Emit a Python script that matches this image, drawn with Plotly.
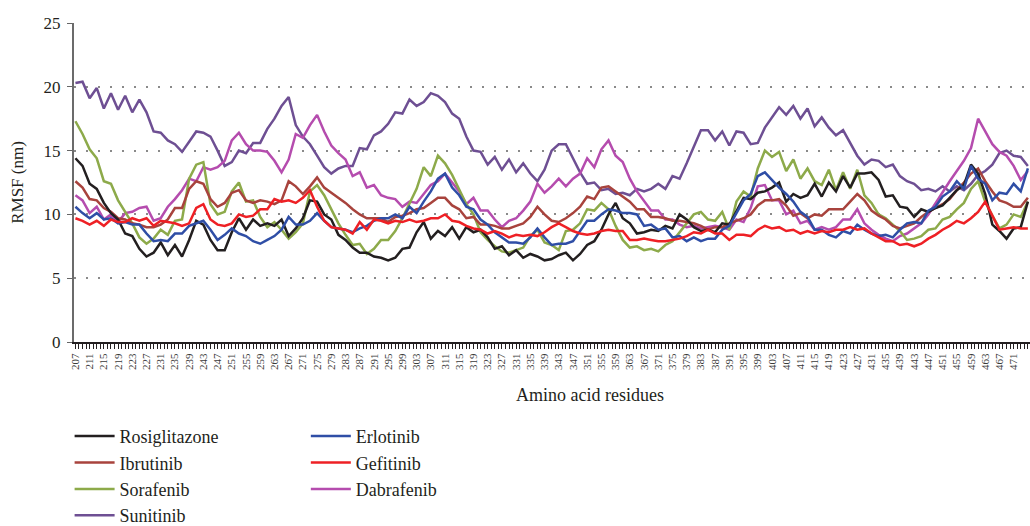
import plotly.graph_objects as go

residues = list(range(207, 476, 2))
tick_labels = [str(r) for r in range(207, 476, 4)]

rosiglitazone = [
    14.4, 13.8, 12.4, 12.0, 10.9, 10.1, 9.6, 8.5, 8.3, 7.3, 6.7, 7.0, 7.8, 6.8, 7.6, 6.7, 8.0, 9.5, 9.2, 8.0,
    7.2, 7.2, 8.6, 9.7, 8.8, 9.6, 9.1, 9.3, 9.1, 9.6, 8.3, 8.9, 9.7, 11.1, 11.0, 10.0, 9.6, 8.4, 8.0, 7.4,
    7.0, 7.0, 6.7, 6.6, 6.4,
    6.6, 7.3, 7.4, 8.6, 9.4, 8.1, 8.7, 8.3, 9.0, 8.1, 9.0, 8.6, 8.8, 8.2, 7.3, 7.5, 6.8, 7.2, 6.6, 6.9,
    6.7, 6.4, 6.5, 6.8, 7.0, 6.4, 6.9, 7.6, 7.9, 8.8, 10.0, 10.9, 9.7, 9.3, 8.5, 8.6, 8.8, 8.7, 9.1, 8.9,
    10.0, 9.6, 9.0, 8.7, 8.8,
    8.6, 9.3, 9.2, 10.3, 11.3, 11.2, 11.7, 11.8, 12.1, 12.5, 11.0, 11.6, 11.3, 11.5, 12.4, 11.4, 12.5, 11.8, 13.0, 12.1,
    13.2, 13.2, 13.3, 12.7, 11.4, 11.5, 10.6, 10.5, 9.8, 10.4, 10.2, 10.5, 10.7, 11.3, 11.9, 12.3, 13.9, 13.2, 11.6, 9.2,
    8.7, 8.1, 8.9, 9.0, 11.0,
]
ibrutinib = [
    12.6, 12.1, 11.2, 11.1, 10.5, 10.2, 9.7, 9.6, 9.3, 9.2, 9.0, 9.0, 9.2, 9.6, 10.5, 10.5, 12.0, 12.6, 12.4, 11.2,
    10.6, 10.9, 11.7, 11.9, 11.1, 10.9, 11.1, 11.0, 10.8, 11.1, 12.6, 12.2, 11.6, 12.2, 12.9, 12.1, 11.7, 11.3, 10.9, 10.4,
    10.0, 9.7, 9.7, 9.7, 9.4,
    9.8, 9.9, 10.1, 10.4, 10.5, 10.9, 11.3, 11.3, 10.7, 10.4, 9.7, 9.8, 9.2, 9.2, 9.1, 8.9, 8.9, 9.1, 9.3, 9.8,
    10.6, 10.0, 9.5, 9.4, 9.7, 10.1, 10.6, 11.4, 11.2, 12.1, 12.2, 11.8, 11.4, 11.0, 10.4, 10.4, 9.8, 9.8, 9.7, 9.5,
    9.5, 9.4, 9.3, 9.1, 8.8,
    9.0, 9.0, 9.3, 9.5, 9.7, 10.0, 10.7, 11.1, 11.1, 11.2, 10.7, 9.9, 10.1, 9.7, 10.0, 9.9, 10.4, 10.4, 10.4, 11.0,
    11.6, 11.1, 10.3, 9.9, 9.6, 9.1, 8.9, 9.1, 9.3, 9.8, 10.2, 10.5, 10.8, 11.2, 11.9, 12.5, 13.2, 13.6, 12.6, 11.8,
    11.1, 10.9, 10.6, 10.6, 11.3,
]
sorafenib = [
    17.3, 16.3, 15.1, 14.4, 12.6, 12.4, 11.1, 10.2, 9.3, 8.2, 7.7, 8.1, 8.8, 8.4, 9.5, 9.6, 12.8, 13.9, 14.1, 10.8,
    10.0, 10.2, 11.8, 12.5, 11.0, 11.1, 9.8, 9.0, 9.4, 8.8, 8.1, 8.6, 9.3, 11.8, 12.3, 11.5, 10.4, 9.3, 8.4, 7.6,
    7.7, 6.9, 7.3, 8.0, 8.0,
    8.7, 9.7, 10.8, 12.0, 13.7, 13.0, 14.6, 14.0, 13.1, 11.9, 10.8, 10.0, 8.6, 8.0, 7.5, 7.1, 7.0, 7.2, 7.4, 8.3,
    8.8, 7.8, 7.6, 7.2, 8.7, 8.8, 9.3, 10.4, 10.3, 10.9, 10.4, 9.1, 8.0, 7.4, 7.5, 7.2, 7.3, 7.1, 7.6, 7.9,
    8.6, 9.3, 10.0, 10.2, 9.6,
    9.5, 10.2, 8.8, 11.0, 11.8, 11.4, 13.6, 15.0, 14.5, 14.9, 13.4, 14.3, 12.8, 13.6, 12.6, 12.3, 13.5, 11.9, 13.3, 12.0,
    13.5, 11.5, 10.9, 10.0, 9.7, 9.2, 8.7, 8.0, 8.1, 8.3, 8.8, 8.9, 9.6, 9.8, 10.4, 10.9, 12.0, 12.6, 11.0, 9.9,
    8.9, 9.2, 10.0, 9.8, 11.0,
]
sunitinib = [
    20.3, 20.4, 19.1, 19.9, 18.3, 19.5, 18.2, 19.3, 18.0, 19.0, 18.0, 16.5, 16.4, 15.8, 15.5, 14.9, 15.7, 16.5, 16.4, 16.1,
    15.0, 13.8, 14.1, 15.0, 14.8, 15.6, 15.6, 16.7, 17.5, 18.5, 19.2, 17.0, 16.1, 15.5, 14.6, 13.7, 13.2, 13.6, 13.8, 13.8,
    15.2, 15.1, 16.2, 16.5, 17.1,
    18.0, 17.9, 19.0, 18.5, 18.8, 19.5, 19.3, 18.8, 17.9, 17.5, 16.1, 15.0, 14.9, 13.9, 14.5, 13.5, 14.3, 13.3, 14.0, 13.2,
    12.6, 13.5, 15.0, 15.5, 15.5, 14.4, 13.3, 12.4, 12.5, 11.9, 12.0, 11.6, 11.7, 11.5, 12.0, 11.8, 12.0, 12.4, 12.0, 13.0,
    12.8, 14.0, 15.3, 16.6, 16.6,
    15.8, 16.5, 15.4, 16.5, 16.4, 15.5, 15.6, 16.8, 17.6, 18.4, 17.8, 18.5, 17.5, 18.3, 16.9, 17.6, 16.8, 16.2, 16.6, 15.6,
    14.6, 13.9, 14.3, 14.2, 13.7, 13.9, 13.0, 12.6, 12.4, 11.9, 12.0, 11.8, 12.2, 11.8, 12.2, 11.9, 12.4, 13.1, 13.4, 13.9,
    14.8, 15.0, 14.6, 14.5, 13.8,
]
erlotinib = [
    10.6, 10.1, 9.7, 10.1, 9.6, 9.7, 9.3, 9.4, 9.2, 9.2, 8.5, 7.9, 8.0, 7.9, 8.5, 8.5, 9.1, 9.3, 9.5, 8.8,
    8.0, 8.4, 8.9, 8.5, 8.3, 7.9, 7.7, 8.0, 8.3, 8.8, 9.8, 9.2, 9.2, 9.5, 10.1, 9.5, 9.0, 8.9, 8.8, 8.6,
    8.9, 9.1, 9.5, 9.7, 9.7,
    10.0, 9.7, 10.6, 10.1, 11.0, 11.8, 12.8, 13.2, 12.1, 11.5, 10.6, 10.4, 9.6, 9.2, 8.6, 8.2, 7.8, 7.8, 7.7, 8.2,
    8.9, 8.2, 7.6, 7.7, 7.7, 7.9, 8.7, 9.5, 9.5, 10.0, 10.4, 10.3, 10.1, 10.1, 10.0, 9.1, 9.2, 8.8, 8.9, 8.2,
    8.3, 7.9, 8.2, 7.9, 8.1,
    8.1, 8.8, 9.1, 10.1, 11.1, 11.6, 13.0, 13.3, 12.7, 12.1, 11.6, 11.0, 10.2, 9.8, 8.8, 8.8, 8.4, 8.2, 8.7, 8.5,
    9.2, 8.8, 8.5, 8.3, 8.4, 8.2, 8.8, 9.3, 9.4, 9.3, 10.3, 10.6, 11.4, 11.8, 12.6, 12.0, 13.8, 12.8, 12.4, 11.1,
    11.7, 11.6, 12.4, 11.8, 13.6,
]
gefitinib = [
    9.7, 9.5, 9.2, 9.5, 9.1, 9.6, 9.4, 9.4, 9.7, 9.5, 9.7, 9.1, 9.5, 9.4, 9.3, 9.1, 9.3, 10.5, 10.8, 9.6,
    9.2, 9.1, 9.3, 10.0, 9.8, 9.9, 10.4, 10.4, 11.2, 11.0, 11.1, 10.9, 11.3, 11.9, 10.6, 9.5, 9.0, 8.9, 8.8, 8.5,
    9.4, 8.8, 9.6, 9.5, 9.3,
    9.5, 9.4, 9.6, 9.4, 9.5, 9.7, 9.7, 10.0, 9.5, 9.4, 9.1, 8.9, 8.8, 8.5, 8.7, 8.5, 8.2, 8.4, 8.3, 8.4,
    8.3, 8.6, 9.0, 9.3, 9.0, 8.7, 8.5, 8.4, 8.5, 8.7, 8.8, 8.7, 8.7, 8.0, 8.0, 8.1, 8.0, 7.9, 7.9, 8.0,
    8.1, 8.3, 8.6, 8.5, 8.8,
    8.5, 8.5, 8.0, 8.4, 8.4, 8.3, 8.8, 9.1, 8.9, 9.0, 8.7, 8.8, 8.5, 8.7, 8.5, 8.7, 8.6, 8.8, 8.8, 9.0,
    8.8, 8.9, 8.5, 8.2, 7.9, 7.9, 7.6, 7.7, 7.5, 7.7, 8.1, 8.4, 8.8, 9.1, 9.5, 9.3, 9.7, 10.2, 11.0, 9.9,
    8.8, 8.9, 9.0, 8.9, 8.9,
]
dabrafenib = [
    11.5, 11.1, 10.1, 10.6, 9.6, 10.0, 9.4, 10.1, 10.2, 10.5, 10.6, 9.5, 9.7, 10.6, 11.2, 11.9, 12.8, 12.6, 13.7, 13.5,
    13.7, 14.2, 15.8, 16.4, 15.5, 15.0, 15.0, 14.9, 14.2, 13.3, 14.3, 16.3, 16.0, 17.0, 17.8, 16.5, 15.4, 14.8, 14.3, 13.0,
    13.3, 12.1, 12.3, 11.5, 11.3,
    11.2, 10.6, 11.0, 10.9, 11.6, 12.3, 12.6, 13.2, 12.5, 11.8, 10.8, 11.3, 10.3, 10.3, 9.6, 9.0, 9.5, 9.7, 10.3, 11.0,
    12.4, 11.7, 12.2, 12.8, 12.2, 12.8, 13.2, 14.4, 13.7, 15.1, 15.8, 14.6, 14.1, 12.8, 11.8, 11.0, 10.3, 10.3, 9.6, 9.6,
    9.2, 9.0, 9.1, 8.9, 9.0,
    9.1, 9.0, 8.8, 9.6, 9.4, 10.5, 12.2, 12.3, 11.1, 11.1, 10.0, 10.3, 9.3, 9.5, 8.8, 9.0, 8.8, 9.0, 9.6, 9.6,
    10.4, 9.3, 8.8, 8.4, 8.1, 7.9, 8.3, 8.5, 8.9, 9.3, 10.0, 10.9, 11.8, 12.6, 13.4, 14.2, 15.2, 17.5, 16.5, 15.5,
    14.9, 14.6, 13.8, 12.7, 13.4,
]

series = [
    ("Sunitinib", sunitinib, "#6E4F93", 4, "legend"),
    ("Dabrafenib", dabrafenib, "#B54CAE", 3, "legend2"),
    ("Sorafenib", sorafenib, "#8DAA4A", 3, "legend"),
    ("Ibrutinib", ibrutinib, "#A8433D", 2, "legend"),
    ("Rosiglitazone", rosiglitazone, "#231F20", 1, "legend"),
    ("Erlotinib", erlotinib, "#2F4EA6", 1, "legend2"),
    ("Gefitinib", gefitinib, "#EE2025", 2, "legend2"),
]

SERIF = "Liberation Serif"

fig = go.Figure()
for name, vals, color, rank, leg in series:
    assert len(vals) == len(residues), name
    fig.add_trace(go.Scatter(
        x=residues, y=vals, name=name, mode="lines",
        line=dict(color=color, width=2.5),
        legendrank=rank, legend=leg,
    ))

legend_style = dict(
    yref="container", y=0.2055, xanchor="left", yanchor="top",
    font=dict(size=18, family=SERIF, color="#231F20"),
    bgcolor="rgba(0,0,0,0)", tracegroupgap=0, itemwidth=40,
)

fig.update_layout(
    width=1030, height=526,
    margin=dict(l=74, r=0, t=23, b=184),
    paper_bgcolor="white", plot_bgcolor="white",
    font=dict(family=SERIF, color="#231F20"),
    showlegend=True,
    legend=dict(x=-0.0046, **legend_style),
    legend2=dict(x=0.2425, **legend_style),
    xaxis=dict(
        range=[206.6, 475.6],
        automargin=False,
        tickmode="array",
        tickvals=[int(t) for t in tick_labels],
        ticktext=tick_labels,
        ticks="outside", ticklen=5, tickwidth=1.3, tickcolor="#231F20",
        tickangle=-90,
        tickfont=dict(size=11, family=SERIF, color="#3a3a3a"),
        minor=dict(dtick=1, tick0=207, ticks="outside", ticklen=5, tickwidth=1.3,
                   tickcolor="#231F20", showgrid=False),
        showline=True, linecolor="#231F20", linewidth=2,
        showgrid=False, zeroline=False,
    ),
    yaxis=dict(
        range=[0, 25], dtick=5, tick0=0,
        automargin=False,
        ticks="outside", ticklen=5, tickwidth=1.3, tickcolor="#666",
        ticklabelstandoff=3,
        tickfont=dict(size=17, family=SERIF, color="#231F20"),
        showline=True, linecolor="#6b6b6b", linewidth=2,
        showgrid=True, gridcolor="#8a8a8a", gridwidth=1.5, griddash="2px,10px",
        zeroline=False,
        title=dict(text="RMSF (nm)", font=dict(size=17, family=SERIF, color="#231F20"), standoff=16),
    ),
    annotations=[dict(
        text="Amino acid residues", xref="paper", yref="paper",
        x=0.54, y=-0.166, xanchor="center", yanchor="middle", showarrow=False,
        font=dict(size=18, family=SERIF, color="#231F20"),
    )],
)

fig.write_html(
    "out.html",
    config={"displayModeBar": False},
    post_script="document.body.style.margin='0';document.body.style.padding='0';",
)
